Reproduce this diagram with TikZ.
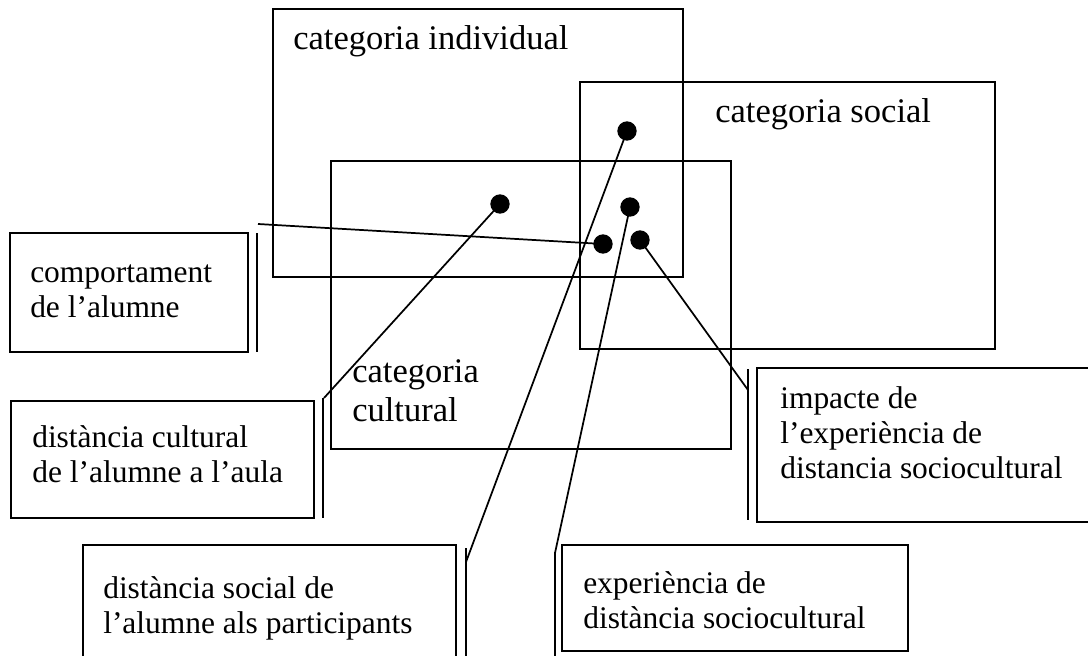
\documentclass[tikz,border=0pt]{standalone}
\usepackage{fontspec}
\setmainfont{Liberation Serif}
\usetikzlibrary{fit}
% text block whose baseline is that of its first line
\newcommand\textlines[1]{\begin{tabular}[t]{@{}l@{}}#1\end{tabular}}
\begin{document}
\begin{tikzpicture}[x=0.75pt,y=-0.75pt,
  catbox/.style={draw, line width=2pt, inner sep=0pt},
  callbox/.style={draw, line width=1.4pt, inner sep=0pt},
  accent/.style={line width=1.3pt},
  leader/.style={line width=1.3pt},
  dot/.style={circle, fill, inner sep=0pt, minimum size=14.5pt},
  cattext/.style={anchor=base west, inner sep=0pt, font=\fontsize{25.9pt}{29.3pt}\selectfont},
  calltext/.style={anchor=base west, inner sep=0pt, font=\fontsize{23.6pt}{26.3pt}\selectfont},
]
\useasboundingbox (0,0) rectangle (1088,656);
\clip (0,0) rectangle (1088,656);

% ---- the three categories ----
\coordinate (ind-a) at (273,9);   \coordinate (ind-b) at (683,277);
\coordinate (soc-a) at (580,82);  \coordinate (soc-b) at (995,349);
\coordinate (cul-a) at (331,161); \coordinate (cul-b) at (731,449);
\node[catbox, fit=(ind-a)(ind-b)] (individual) {};
\node[catbox, fit=(soc-a)(soc-b)] (social) {};
\node[catbox, fit=(cul-a)(cul-b)] (cultural) {};
\node[cattext] (individual-title) at (293,50) {categoria individual};
\node[cattext] (social-title) at (715,123) {categoria social};
\node[cattext] (cultural-title) at (352,382) {\textlines{categoria\\cultural}};

% ---- points inside the categories ----
\node[dot] (pA) at (627,131) {};
\node[dot] (pB) at (500,204) {};
\node[dot] (pC) at (630,207) {};
\node[dot] (pD) at (603,244) {};
\node[dot] (pE) at (640,240) {};

% ---- callout boxes ----
\coordinate (c1-a) at (10,233);  \coordinate (c1-b) at (248,352);
\coordinate (c2-a) at (11,401);  \coordinate (c2-b) at (314,518);
\coordinate (c3-a) at (83,545);  \coordinate (c3-b) at (456,670);
\coordinate (c4-a) at (562,545); \coordinate (c4-b) at (908,651);
\coordinate (c5-a) at (757,368); \coordinate (c5-b) at (1100,522);
\node[callbox, fit=(c1-a)(c1-b)] (behaviour) {};
\node[callbox, fit=(c2-a)(c2-b)] (culturaldist) {};
\node[callbox, fit=(c3-a)(c3-b)] (socialdist) {};
\node[callbox, fit=(c4-a)(c4-b)] (experience) {};
\node[callbox, fit=(c5-a)(c5-b)] (impact) {};

\node[calltext] (behaviour-text) at (30,282) {\textlines{comportament\\de l’alumne}};
\node[calltext] (culturaldist-text) at (32,447) {\textlines{distància cultural\\de l’alumne a l’aula}};
\node[calltext] (socialdist-text) at (103,598) {\textlines{distància social de\\l’alumne als participants}};
\node[calltext] (experience-text) at (583,593) {\textlines{experiència de\\distància sociocultural}};
\node[calltext] (impact-text) at (780,408) {\textlines{impacte de\\l’experiència de\\distancia sociocultural}};

% ---- accent bars beside the callouts ----
\coordinate (b1-top) at (257,233); \coordinate (b1-bot) at (257,352);
\coordinate (b2-top) at (323,398); \coordinate (b2-bot) at (323,518);
\coordinate (b3-top) at (466,548); \coordinate (b3-bot) at (466,670);
\coordinate (b4-top) at (555,552); \coordinate (b4-bot) at (555,656);
\coordinate (b5-top) at (748,369); \coordinate (b5-bot) at (748,520);
\foreach \b in {1,...,5} \draw[accent] (b\b-top) -- (b\b-bot);

% ---- leader lines ----
\coordinate (l1) at (258,224);
\coordinate (l2) at (324,398);
\coordinate (l3) at (466,562);
\coordinate (l4) at (555,553);
\coordinate (l5) at (748,390);
\draw[leader] (l1) -- (pD.center);
\draw[leader] (l2) -- (pB.center);
\draw[leader] (l3) -- (pA.center);
\draw[leader] (l4) -- (pC.center);
\draw[leader] (l5) -- (pE.center);
\end{tikzpicture}
\end{document}
